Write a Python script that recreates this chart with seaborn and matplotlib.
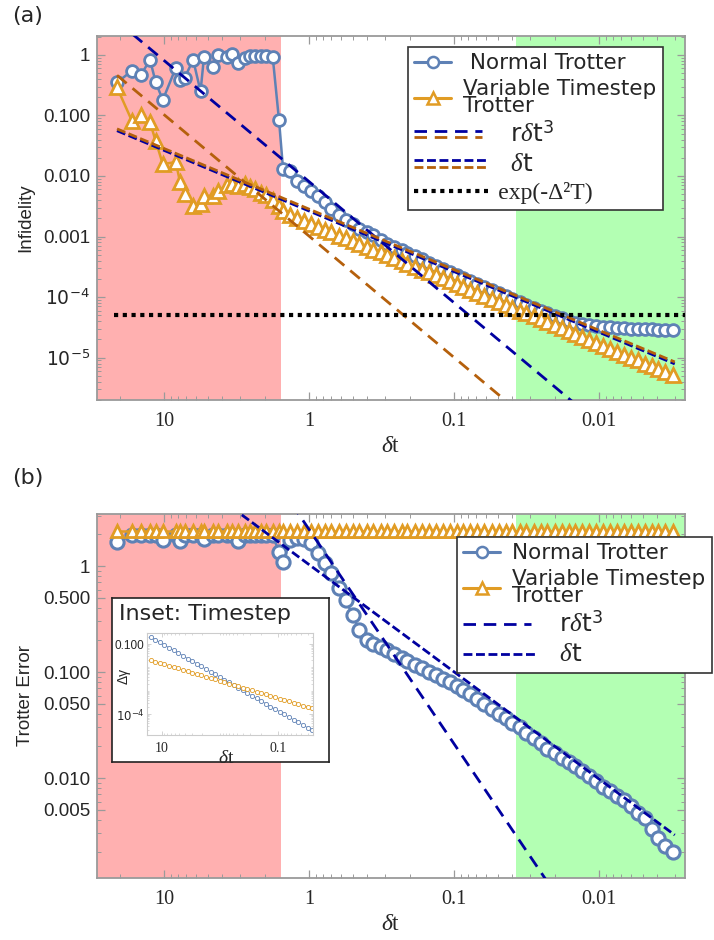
import matplotlib
matplotlib.use('Agg')
import matplotlib.pyplot as plt
import matplotlib.ticker as mticker
from matplotlib.lines import Line2D
from matplotlib.legend_handler import HandlerBase
import seaborn as sns

# ---- data ------------------------------------------------------------------
# timestep grid: irregular part (red region) then the fine part
dt_coarse = [21.1, 16.6, 14.4, 12.5, 11.4, 10.2, 8.3, 7.76, 7.2, 6.3, 5.6, 5.3,
             4.6, 4.25, 3.7, 3.4, 3.1, 2.76, 2.57, 2.36, 2.14, 1.99, 1.78, 1.61]
dt_fine = [1.51, 1.35, 1.21, 1.08, 0.97, 0.87, 0.78, 0.70, 0.62, 0.56,
           0.50, 0.45, 0.40, 0.36, 0.32, 0.29, 0.26, 0.23, 0.21, 0.186,
           0.167, 0.149, 0.134, 0.120, 0.107, 0.096, 0.086, 0.077, 0.069, 0.062,
           0.055, 0.049, 0.044, 0.040, 0.035, 0.032, 0.028, 0.025, 0.023, 0.020,
           0.018, 0.016, 0.0146, 0.0131, 0.0117, 0.0105, 0.0094, 0.0084, 0.0075, 0.0067,
           0.0060, 0.0054, 0.0048, 0.0043, 0.0039, 0.0035, 0.0031]
dt = dt_coarse + dt_fine

# (a) infidelity
infid_normal = [0.35, 0.55, 0.47, 0.83, 0.35, 0.18, 0.61, 0.39, 0.42, 0.83, 0.25, 0.93,
                0.64, 1.0, 0.93, 1.03, 0.74, 0.89, 0.96, 0.96, 0.96, 0.96, 0.93, 0.083,
                0.0130, 0.0120, 0.0083, 0.0069, 0.0057, 0.0047, 0.0037, 0.0029, 0.0023, 0.0019,
                0.0016, 0.00135, 0.00117, 0.00105, 0.00089, 7.6e-4, 6.8e-4, 6.0e-4, 5.3e-4, 4.7e-4,
                4.2e-4, 3.7e-4, 3.3e-4, 2.9e-4, 2.6e-4, 2.3e-4, 2.05e-4, 1.83e-4, 1.63e-4, 1.46e-4,
                1.3e-4, 1.16e-4, 1.04e-4, 9.3e-5, 8.2e-5, 7.3e-5, 6.5e-5, 5.9e-5, 5.4e-5, 4.9e-5,
                4.5e-5, 4.1e-5, 3.8e-5, 3.6e-5, 3.45e-5, 3.3e-5, 3.2e-5, 3.15e-5, 3.1e-5, 3.05e-5,
                3.0e-5, 3.0e-5, 2.95e-5, 2.95e-5, 2.9e-5, 2.9e-5, 2.9e-5]
infid_variable = [0.29, 0.080, 0.100, 0.077, 0.0375, 0.0157, 0.017, 0.0080, 0.0051, 0.0032, 0.0034, 0.0047,
                  0.0047, 0.0057, 0.0070, 0.0074, 0.0069, 0.0074, 0.0066, 0.0061, 0.0053, 0.0048, 0.0040, 0.0032,
                  0.0026, 0.0023, 0.0020, 0.0018, 0.00162, 0.00145, 0.0013, 0.00117, 0.00104, 9.4e-4,
                  8.4e-4, 7.6e-4, 6.8e-4, 6.1e-4, 5.5e-4, 4.9e-4, 4.4e-4, 3.95e-4, 3.55e-4, 3.2e-4,
                  2.85e-4, 2.55e-4, 2.3e-4, 2.05e-4, 1.84e-4, 1.65e-4, 1.48e-4, 1.32e-4, 1.18e-4, 1.06e-4,
                  9.4e-5, 8.4e-5, 7.5e-5, 6.7e-5, 6.0e-5, 5.4e-5, 4.8e-5, 4.3e-5, 3.85e-5, 3.45e-5,
                  3.1e-5, 2.75e-5, 2.45e-5, 2.2e-5, 1.96e-5, 1.75e-5, 1.57e-5, 1.4e-5, 1.25e-5, 1.12e-5,
                  1.0e-5, 9.0e-6, 8.0e-6, 7.2e-6, 6.4e-6, 5.8e-6, 5.2e-6]

# fitted guide lines in (a): end points
fit_a_rdt3_x = [21.1, 0.01]
fit_a_rdt3_blue = [3.6, 8.1e-7]
fit_a_rdt3_brown = [0.46, 1.0e-7]
fit_a_dt_x = [21.1, 0.003]
fit_a_dt_blue = [0.056, 7.9e-6]
fit_a_dt_brown = [0.060, 8.5e-6]
bound_x = [22, 0.00255]
bound_y = [5e-5, 5e-5]

# (b) Trotter error
err_normal = [1.68, 1.95, 1.95, 1.95, 1.95, 1.75, 1.95, 1.72, 1.95, 1.95, 1.95, 1.80,
              1.95, 1.95, 1.95, 1.95, 1.72, 1.95, 1.95, 1.95, 1.95, 1.95, 1.95, 1.35,
              1.09, 1.76, 1.84, 1.80, 1.65, 1.33, 1.07, 0.86, 0.62, 0.48,
              0.345, 0.25, 0.20, 0.184, 0.172, 0.161, 0.148, 0.136, 0.127, 0.116,
              0.109, 0.100, 0.094, 0.086, 0.081, 0.074, 0.068, 0.062, 0.056, 0.050,
              0.045, 0.040, 0.037, 0.033, 0.030, 0.0266, 0.0238, 0.0214, 0.0188, 0.0172,
              0.0154, 0.0142, 0.0130, 0.0116, 0.0104, 0.0093, 0.0083, 0.0075, 0.0067, 0.0062,
              0.0054, 0.0047, 0.0042, 0.0033, 0.0027, 0.0023, 0.0020]
err_variable = [2.15, 2.15, 2.15, 2.15, 2.15, 2.15, 2.15, 2.15, 2.15, 2.15, 2.15, 2.15,
                2.15, 2.15, 2.15, 2.15, 2.15, 2.15, 2.15, 2.15, 2.15, 2.15, 2.15, 2.15,
                2.15, 2.15, 2.15, 2.15, 2.15, 2.15, 2.15, 2.15, 2.15, 2.15,
                2.15, 2.15, 2.15, 2.15, 2.15, 2.15, 2.15, 2.15, 2.15, 2.15,
                2.15, 2.15, 2.15, 2.15, 2.15, 2.15, 2.15, 2.15, 2.15, 2.15,
                2.15, 2.15, 2.15, 2.15, 2.15, 2.15, 2.15, 2.15, 2.15, 2.15,
                2.15, 2.15, 2.15, 2.15, 2.15, 2.15, 2.15, 2.15, 2.15, 2.15,
                2.15, 2.15, 2.15, 2.15, 2.15, 2.15, 2.15]
fit_b_rdt3_x = [1.58, 0.01]
fit_b_rdt3 = [5.6, 2.0e-4]
fit_b_dt_x = [4.0, 0.003]
fit_b_dt = [4.2, 0.0029]

# inset: timestep size
inset_dt = [15.5, 12.9, 10.8, 9.0, 7.5, 6.2, 5.2, 4.3, 3.6, 3.0, 2.5, 2.1,
            1.74, 1.45, 1.21, 1.01, 0.84, 0.70, 0.58, 0.49, 0.40, 0.34, 0.28, 0.233,
            0.194, 0.162, 0.135, 0.112, 0.094, 0.078, 0.065, 0.054, 0.045, 0.037, 0.031, 0.026]
inset_normal = [0.20, 0.153, 0.118, 0.091, 0.070, 0.054, 0.041, 0.032, 0.024, 0.019, 0.0144, 0.0110,
                0.0085, 0.0065, 0.0050, 0.0039, 0.0030, 0.0023, 0.00175, 0.00134, 0.00103, 7.9e-4,
                6.1e-4, 4.7e-4, 3.6e-4, 2.8e-4, 2.1e-4, 1.64e-4, 1.26e-4, 9.7e-5, 7.4e-5, 5.7e-5,
                4.4e-5, 3.4e-5, 2.6e-5, 2.0e-5]
inset_variable = [0.020, 0.0178, 0.0156, 0.0136, 0.0119, 0.0104, 0.0091, 0.0079, 0.0069, 0.0060, 0.0053, 0.0046,
                  0.0040, 0.0035, 0.0031, 0.0027, 0.0023, 0.0020, 0.0018, 0.00156, 0.00136, 0.00119,
                  0.00104, 9.1e-4, 7.9e-4, 6.9e-4, 6.0e-4, 5.3e-4, 4.6e-4, 4.0e-4, 3.5e-4, 3.1e-4,
                  2.7e-4, 2.3e-4, 2.05e-4, 1.8e-4]

red_edge = 1.56
green_edge = 0.0373
xlim = (29, 0.00255)

BLUE = '#5E81B5'
ORANGE = '#E19C24'
NAVY = '#0000A0'
BROWN = '#B5600C'
RED_BG = '#FFB0B0'
GREEN_BG = '#B3FFB3'
SPINE = '#9a9a9a'

LONG = (4.5, 2.8)
SHORT = (3.2, 1.3)

sns.set_theme(style='ticks')
plt.rcParams['font.family'] = ['Liberation Sans', 'DejaVu Sans']
plt.rcParams['mathtext.fontset'] = 'custom'
plt.rcParams['mathtext.rm'] = 'DejaVu Sans'
plt.rcParams['mathtext.it'] = 'Liberation Serif:italic'
plt.rcParams['mathtext.bf'] = 'DejaVu Sans:bold'
SERIF = ['Liberation Serif', 'DejaVu Serif']
LEG_FONT = {'family': 'DejaVu Sans', 'size': 15.5}


class DashHandler(HandlerBase):
    """legend key: one or more dashed lines stacked, drawn longer than the key box"""
    def __init__(self, colors, dashes, lw=2.0, extra=1.85, sep=4.6):
        super().__init__()
        self.colors, self.dashes, self.lw = colors, dashes, lw
        self.extra, self.sep = extra, sep

    def create_artists(self, legend, orig_handle, xdescent, ydescent,
                       width, height, fontsize, trans):
        y0 = (height - ydescent) / 2
        n = len(self.colors)
        arts = []
        for k, c in enumerate(self.colors):
            yk = y0 + (n - 1) / 2 * self.sep - k * self.sep
            ln = Line2D([-xdescent, -xdescent + width * self.extra], [yk, yk],
                        color=c, lw=self.lw, dashes=self.dashes, dash_capstyle='butt')
            ln.set_transform(trans)
            arts.append(ln)
        return arts


def style_axis(ax, yticks, ylabels, ylim):
    ax.set_xscale('log')
    ax.set_yscale('log')
    ax.set_xlim(*xlim)
    ax.set_ylim(*ylim)
    ax.axvspan(xlim[0], red_edge, color=RED_BG, lw=0, zorder=0)
    ax.axvspan(green_edge, xlim[1], color=GREEN_BG, lw=0, zorder=0)
    ax.xaxis.set_major_locator(mticker.FixedLocator([10, 1, 0.1, 0.01]))
    ax.xaxis.set_major_formatter(mticker.FixedFormatter(['10', '1', '0.1', '0.01']))
    ax.xaxis.set_minor_locator(mticker.LogLocator(base=10, subs=range(2, 10), numticks=20))
    ax.xaxis.set_minor_formatter(mticker.NullFormatter())
    ax.yaxis.set_major_locator(mticker.FixedLocator(yticks))
    ax.yaxis.set_major_formatter(mticker.FixedFormatter(ylabels))
    ax.yaxis.set_minor_locator(mticker.LogLocator(base=10, subs=range(2, 10), numticks=20))
    ax.yaxis.set_minor_formatter(mticker.NullFormatter())
    ax.tick_params(which='both', direction='in', top=True, right=True, color=SPINE)
    ax.tick_params(which='major', length=6, width=0.9)
    ax.tick_params(which='minor', length=3, width=0.7)
    ax.tick_params(axis='y', labelsize=13.5, pad=5)
    ax.tick_params(axis='x', labelsize=14.5, pad=9)
    for lab in ax.get_xticklabels():
        lab.set_family(SERIF)
    for sp in ax.spines.values():
        sp.set_color(SPINE)
        sp.set_linewidth(1.3)
    ax.set_xlabel('$\\delta$t', family=SERIF, fontsize=17, labelpad=3)


def make_legend(ax, handles, labels, hmap, corner):
    leg = ax.legend(handles, labels, handler_map=hmap, loc='upper left',
                    bbox_to_anchor=(corner[0] / 714, 1 - corner[1] / 940),
                    bbox_transform=fig.transFigure, borderaxespad=0, prop=LEG_FONT,
                    handlelength=1.7, handletextpad=0.55, labelspacing=0.25, borderpad=0.3,
                    frameon=True, fancybox=False, framealpha=1, edgecolor='#333333')
    leg.get_frame().set_linewidth(1.2)
    leg.set_zorder(10)
    for t in leg.get_texts():
        t.set_linespacing(0.8)
    leg.get_texts()[2].set_fontsize(18)
    leg.get_texts()[3].set_fontsize(18)
    return leg


fig = plt.figure(figsize=(7.14, 9.40), dpi=100)
ax1 = fig.add_axes([97 / 714, 1 - 400 / 940, 588 / 714, 364 / 940])
ax2 = fig.add_axes([97 / 714, 1 - 878 / 940, 588 / 714, 364 / 940])

# ---------------- panel (a) ----------------
style_axis(ax1, [1e-5, 1e-4, 1e-3, 1e-2, 1e-1, 1],
           ['$10^{-5}$', '$10^{-4}$', '0.001', '0.010', '0.100', '1'], (2.0e-6, 2.05))
for lab in ax1.get_yticklabels():
    lab.set_family(['Liberation Sans'])
sns.lineplot(x=dt, y=infid_normal, ax=ax1, color=BLUE, lw=1.8, marker='o', markersize=8.5,
             markerfacecolor='white', markeredgecolor=BLUE, markeredgewidth=2.0,
             estimator=None, sort=False, legend=False, zorder=3)
sns.lineplot(x=dt, y=infid_variable, ax=ax1, color=ORANGE, lw=1.8, marker='^', markersize=10,
             markerfacecolor='white', markeredgecolor=ORANGE, markeredgewidth=2.0,
             estimator=None, sort=False, legend=False, zorder=4)
ax1.plot(fit_a_rdt3_x, fit_a_rdt3_blue, color=NAVY, lw=2.0, dashes=LONG, zorder=5)
ax1.plot(fit_a_rdt3_x, fit_a_rdt3_brown, color=BROWN, lw=2.0, dashes=LONG, zorder=5)
ax1.plot(fit_a_dt_x, fit_a_dt_blue, color=NAVY, lw=2.0, dashes=SHORT, zorder=5)
ax1.plot(fit_a_dt_x, fit_a_dt_brown, color=BROWN, lw=2.0, dashes=SHORT, zorder=5)
ax1.plot(bound_x, bound_y, color='black', lw=3.0, dashes=(1, 1.1), zorder=6)
ax1.set_ylabel('Infidelity', fontsize=13.5, labelpad=6)

h_norm = Line2D([], [], color=BLUE, lw=2.2, marker='o', markersize=8, markerfacecolor='white',
                markeredgecolor=BLUE, markeredgewidth=1.8)
h_var = Line2D([], [], color=ORANGE, lw=2.2, marker='^', markersize=9, markerfacecolor='white',
               markeredgecolor=ORANGE, markeredgewidth=1.8)
h_r3 = Line2D([], [])
h_dt = Line2D([], [])
h_ex = Line2D([], [])
pad = '      '
leg1 = make_legend(ax1, [h_norm, h_var, h_r3, h_dt, h_ex],
                   [' Normal Trotter', 'Variable Timestep\nTrotter', pad + 'r$\\delta$t$^3$',
                    pad + '$\\delta$t', pad + 'exp(-Δ²T)'],
                   {h_r3: DashHandler([NAVY, BROWN], LONG),
                    h_dt: DashHandler([NAVY, BROWN], SHORT, extra=2.0),
                    h_ex: DashHandler(['black'], (1, 1.1), lw=3.0, extra=2.0)},
                   (408, 47))
leg1.get_texts()[4].set_family(SERIF)
leg1.get_texts()[4].set_fontsize(17)

# ---------------- panel (b) ----------------
style_axis(ax2, [0.005, 0.01, 0.05, 0.1, 0.5, 1],
           ['0.005', '0.010', '0.050', '0.100', '0.500', '1'], (0.00114, 3.1))
sns.lineplot(x=dt, y=err_normal, ax=ax2, color=BLUE, lw=1.8, marker='o', markersize=9.5,
             markerfacecolor='white', markeredgecolor=BLUE, markeredgewidth=2.2,
             estimator=None, sort=False, legend=False, zorder=3)
sns.lineplot(x=dt, y=err_variable, ax=ax2, color=ORANGE, lw=1.8, marker='^', markersize=9,
             markerfacecolor='white', markeredgecolor=ORANGE, markeredgewidth=2.0,
             estimator=None, sort=False, legend=False, zorder=4)
ax2.plot(fit_b_rdt3_x, fit_b_rdt3, color=NAVY, lw=2.0, dashes=LONG, zorder=5)
ax2.plot(fit_b_dt_x, fit_b_dt, color=NAVY, lw=2.0, dashes=SHORT, zorder=5)
ax2.set_ylabel('Trotter Error', fontsize=13.5, labelpad=6)

h_r3b = Line2D([], [])
h_dtb = Line2D([], [])
leg2 = make_legend(ax2, [h_norm, h_var, h_r3b, h_dtb],
                   ['Normal Trotter', 'Variable Timestep\nTrotter', pad + 'r$\\delta$t$^3$',
                    pad + '$\\delta$t'],
                   {h_r3b: DashHandler([NAVY], LONG),
                    h_dtb: DashHandler([NAVY], SHORT, extra=2.0)},
                   (457, 537))

# ---------------- inset ----------------
box = fig.add_axes([112 / 714, 1 - 762 / 940, 217 / 714, 164 / 940], zorder=5)
box.set_xticks([])
box.set_yticks([])
box.set_facecolor('white')
for sp in box.spines.values():
    sp.set_color('#222222')
    sp.set_linewidth(1.2)
box.text(0.03, 0.905, 'Inset: Timestep', transform=box.transAxes, fontsize=16,
         family=['DejaVu Sans'], va='center', ha='left')

ins = fig.add_axes([147 / 714, 1 - 735 / 940, 166 / 714, 102 / 940], zorder=6)
ins.set_xscale('log')
ins.set_yscale('log')
ins.set_xlim(18, 0.025)
ins.set_ylim(1.26e-5, 0.3)
sns.lineplot(x=inset_dt, y=inset_normal, ax=ins, color=BLUE, lw=0.5, marker='o', markersize=3,
             markerfacecolor='white', markeredgecolor=BLUE, markeredgewidth=0.6,
             estimator=None, sort=False, legend=False)
sns.lineplot(x=inset_dt, y=inset_variable, ax=ins, color=ORANGE, lw=0.5, marker='o', markersize=3,
             markerfacecolor='white', markeredgecolor=ORANGE, markeredgewidth=0.6,
             estimator=None, sort=False, legend=False)
ins.xaxis.set_major_locator(mticker.FixedLocator([10, 0.1]))
ins.xaxis.set_major_formatter(mticker.FixedFormatter(['10', '0.1']))
ins.xaxis.set_minor_locator(mticker.LogLocator(base=10, subs=range(1, 10), numticks=20))
ins.xaxis.set_minor_formatter(mticker.NullFormatter())
ins.yaxis.set_major_locator(mticker.FixedLocator([1e-4, 0.1]))
ins.yaxis.set_major_formatter(mticker.FixedFormatter(['$10^{-4}$', '0.100']))
ins.yaxis.set_minor_locator(mticker.LogLocator(base=10, subs=range(1, 10), numticks=20))
ins.yaxis.set_minor_formatter(mticker.NullFormatter())
ins.tick_params(which='both', direction='in', top=True, right=True, color='#cccccc')
ins.tick_params(which='major', length=3, width=0.6)
ins.tick_params(which='minor', length=1.5, width=0.5)
ins.tick_params(axis='y', labelsize=8.5, pad=2)
ins.tick_params(axis='x', labelsize=10, pad=5)
for lab in ins.get_xticklabels():
    lab.set_family(SERIF)
for lab in ins.get_yticklabels():
    lab.set_family(['Liberation Sans'])
for sp in ins.spines.values():
    sp.set_color('#cccccc')
    sp.set_linewidth(0.8)
ins.set_xlabel('$\\delta$t', family=SERIF, fontsize=14)
ins.xaxis.set_label_coords(0.48, -0.15)
ins.set_ylabel('Δγ', fontsize=10)
ins.yaxis.set_label_coords(-0.1, 0.58)

fig.text(12 / 714, 1 - 16 / 940, '(a)', fontsize=16, family=['DejaVu Sans'], va='center')
fig.text(12 / 714, 1 - 478 / 940, '(b)', fontsize=16, family=['DejaVu Sans'], va='center')

fig.savefig('out.png', dpi=100)
